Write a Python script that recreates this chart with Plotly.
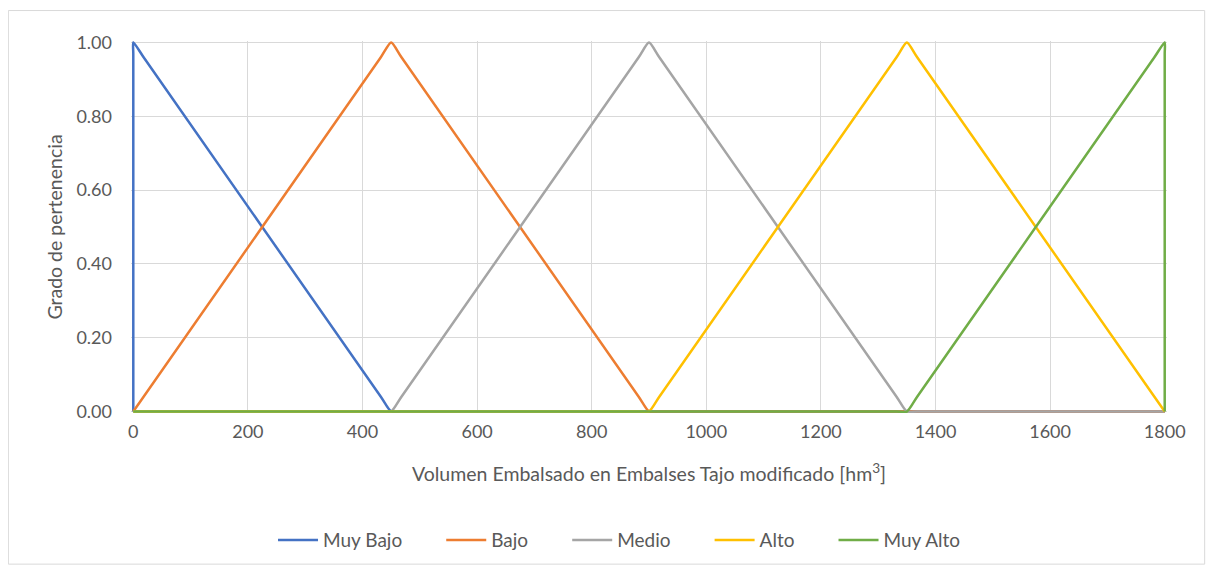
import plotly.graph_objects as go

# Breakpoints (x in hm3, y = grado de pertenencia)
muy_bajo_x = [0, 0, 0, 18, 432, 450, 468, 1800]
muy_bajo_y = [0.0, 0.97, 1.0, 0.96, 0.04, 0.0, 0.0, 0.0]

bajo_x = [0, 432, 450, 468, 882, 900, 918, 1800]
bajo_y = [0.0, 0.96, 1.0, 0.96, 0.04, 0.0, 0.0, 0.0]

medio_x = [0, 432, 450, 468, 882, 900, 918, 1332, 1350, 1368, 1800]
medio_y = [0.0, 0.0, 0.0, 0.04, 0.96, 1.0, 0.96, 0.04, 0.0, 0.0, 0.0]

alto_x = [0, 882, 900, 918, 1332, 1350, 1368, 1782, 1800]
alto_y = [0.0, 0.0, 0.0, 0.04, 0.96, 1.0, 0.96, 0.04, 0.0]

muy_alto_x = [0, 1332, 1350, 1368, 1782, 1800, 1800, 1800]
muy_alto_y = [0.0, 0.0, 0.0, 0.04, 0.96, 1.0, 0.97, 0.0]

series = [
    ("Muy Bajo", muy_bajo_x, muy_bajo_y, "#4472C4"),
    ("Bajo", bajo_x, bajo_y, "#ED7D31"),
    ("Medio", medio_x, medio_y, "#A5A5A5"),
    ("Alto", alto_x, alto_y, "#FFC000"),
    ("Muy Alto", muy_alto_x, muy_alto_y, "#70AD47"),
]

x_ticks = [0, 200, 400, 600, 800, 1000, 1200, 1400, 1600, 1800]
y_ticks = [0.0, 0.2, 0.4, 0.6, 0.8, 1.0]

FONT = "Lato"
TXT = "#595959"
PAD = "\u00a0" * 7

fig = go.Figure()
for i, (name, xs, ys, col) in enumerate(series):
    label = name + (PAD if i < len(series) - 1 else "")
    fig.add_trace(go.Scatter(
        x=xs, y=ys, name=label, mode="lines",
        line=dict(color=col, width=2.5, shape="spline", smoothing=0.6),
    ))

# page has an 8px body margin; target pixel positions are in window coordinates
OFF = 8
W, H = 1214 - OFF, 567 - OFF
L, R, T, B = 133 - OFF, 1165 - OFF, 42 - OFF, 412 - OFF
pw, ph = R - L, B - T
XMIN, XMAX = -4, 1804
YMIN, YMAX = -0.004, 1.004
ux = pw / 1800.0
L2 = L + XMIN * ux
R2 = R + (XMAX - 1800) * ux
uy = ph / 1.0
B2 = B - YMIN * uy
T2 = T - (YMAX - 1.0) * uy
pw2, ph2 = R2 - L2, B2 - T2

def px_x(p):
    return (p - OFF - L2) / pw2

def px_y(p):
    return (B2 - (p - OFF)) / ph2

fig.add_shape(type="rect", xref="paper", yref="paper",
              x0=px_x(8), x1=px_x(1205), y0=px_y(565), y1=px_y(10),
              line=dict(color="#D9D9D9", width=1), fillcolor="rgba(0,0,0,0)", layer="below")

fig.update_layout(
    width=W, height=H,
    margin=dict(l=L2, r=W - R2, t=T2, b=H - B2, autoexpand=False),
    paper_bgcolor="white", plot_bgcolor="white",
    font=dict(family=FONT, size=18, color=TXT),
    showlegend=True,
    legend=dict(orientation="h", x=px_x(619), xanchor="center",
                y=px_y(541), yanchor="middle",
                font=dict(family=FONT, size=19, color=TXT),
                itemwidth=40, tracegroupgap=0),
    xaxis=dict(range=[XMIN, XMAX], tickvals=x_ticks, ticktext=[str(v) for v in x_ticks],
               showgrid=True, gridcolor="#D9D9D9", gridwidth=1,
               zeroline=False, showline=False,
               ticks="", tickfont=dict(size=18, color=TXT), ticklabelstandoff=6,
               title=dict(text="Volumen Embalsado en Embalses Tajo modificado [hm<sup>3</sup>]",
                          font=dict(size=19.5, color=TXT), standoff=26)),
    yaxis=dict(range=[YMIN, YMAX], tickvals=y_ticks, ticktext=[f"{v:.2f}" for v in y_ticks],
               showgrid=True, gridcolor="#D9D9D9", gridwidth=1,
               zeroline=False, showline=False, ticks="",
               tickfont=dict(size=18, color=TXT), ticklabelstandoff=18,
               title=dict(text="Grado de pertenencia", font=dict(size=19.5, color=TXT), standoff=8)),
)

fig.write_html("out.html")
